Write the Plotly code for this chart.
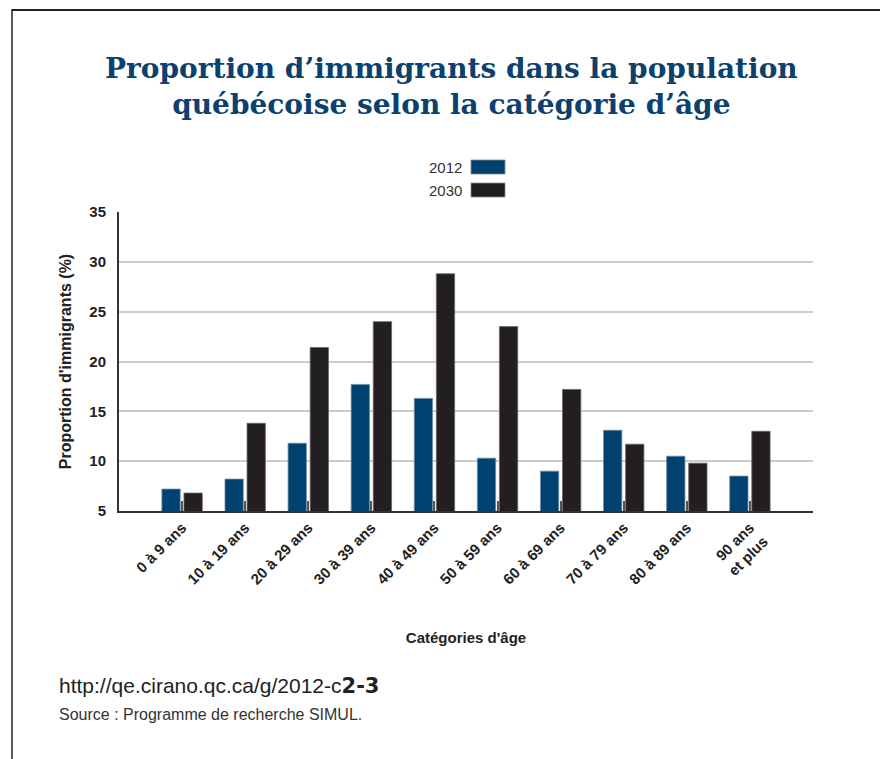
import plotly.graph_objects as go

categories = ["0 à 9 ans", "10 à 19 ans", "20 à 29 ans", "30 à 39 ans", "40 à 49 ans",
              "50 à 59 ans", "60 à 69 ans", "70 à 79 ans", "80 à 89 ans", "90 ans<br>et plus"]
values_2012 = [7.2, 8.2, 11.8, 17.7, 16.3, 10.3, 9.0, 13.1, 10.5, 8.5]
values_2030 = [6.8, 13.8, 21.4, 24.0, 28.8, 23.5, 17.2, 11.7, 9.8, 13.0]
series_names = ["2012", "2030"]
y_ticks = [5, 10, 15, 20, 25, 30, 35]

BLUE = "#00426f"
DARK = "#231f20"
FONT = "Liberation Sans, Arial, sans-serif"

fig = go.Figure()
fig.add_trace(go.Bar(x=categories, y=values_2012, name=series_names[0],
                     marker=dict(color=BLUE, line=dict(color="#6d8aa3", width=0.8)),
                     width=0.29, offset=-0.32, showlegend=False))
fig.add_trace(go.Bar(x=categories, y=values_2030, name=series_names[1],
                     marker=dict(color=DARK, line=dict(color="#666666", width=0.8)),
                     width=0.29, offset=0.03, showlegend=False))

W0, H0 = 694, 299  # plot area px
def px2x(px):
    return (px - 119) / W0
def py2y(py):
    return (511 - py) / H0

fig.update_layout(
    width=880, height=759,
    margin=dict(l=119, r=67, t=212, b=248),
    paper_bgcolor="white", plot_bgcolor="white",
    barmode="overlay",
    font=dict(family=FONT, color="#222222"),
    xaxis=dict(range=[-1, 10], tickangle=-45, showgrid=False,
               tickfont=dict(family=FONT, size=15, color="#222222", weight="bold"),
               showline=True, linecolor="#333333", linewidth=2,
               ticks="inside", ticklen=10, tickwidth=2, tickcolor="#555555",
               title=dict(text="<b>Catégories d'âge</b>", font=dict(size=15, color="#222222"), standoff=46)),
    yaxis=dict(range=[5, 35], tickvals=y_ticks, showgrid=True, gridcolor="#cccccc", gridwidth=2,
               tickfont=dict(family=FONT, size=15, color="#222222", weight="bold"),
               showline=True, linecolor="#333333", linewidth=2, zeroline=False,
               ticks="", ticklabelstandoff=8,
               title=dict(text="<b>Proportion d'immigrants (%)</b>", font=dict(size=16, color="#222222"), standoff=14)),
)

# Title
fig.add_annotation(text="<b>Proportion d’immigrants dans la population<br>québécoise selon la catégorie d’âge</b>",
                   xref="paper", yref="paper", x=px2x(451), y=py2y(86), xanchor="center", yanchor="middle",
                   showarrow=False, align="center",
                   font=dict(family="DejaVu Serif, serif", size=28, color="#0b416f"))

# Custom legend (text left, swatch right)
colors = [BLUE, DARK]
for i, (nm, c) in enumerate(zip(series_names, colors)):
    yc = 167 + i * 23
    fig.add_annotation(text=nm, xref="paper", yref="paper", x=px2x(464), y=py2y(yc),
                       xanchor="right", yanchor="middle", showarrow=False,
                       font=dict(family=FONT, size=15, color="#333333"))
    fig.add_shape(type="rect", xref="paper", yref="paper",
                  x0=px2x(471), x1=px2x(505), y0=py2y(yc - 7), y1=py2y(yc + 7),
                  fillcolor=c, line=dict(color="#888888", width=0.8))

# Footer
fig.add_annotation(text="http://qe.cirano.qc.ca/g/2012-c<span style='font-family:DejaVu Sans; font-weight:bold'>2-3</span>",
                   xref="paper", yref="paper", x=px2x(57), y=py2y(686), xanchor="left", yanchor="middle",
                   showarrow=False, font=dict(family=FONT, size=21, color="#222222"))
fig.add_annotation(text="Source : Programme de recherche SIMUL.",
                   xref="paper", yref="paper", x=px2x(57), y=py2y(714), xanchor="left", yanchor="middle",
                   showarrow=False, font=dict(family=FONT, size=16, color="#333333"))

# Frame lines (top and left)
fig.add_shape(type="line", xref="paper", yref="paper", x0=px2x(12), x1=px2x(880), y0=py2y(10), y1=py2y(10),
              line=dict(color="#222222", width=2))
fig.add_shape(type="line", xref="paper", yref="paper", x0=px2x(12), x1=px2x(12), y0=py2y(9), y1=py2y(759),
              line=dict(color="#222222", width=1.5))

fig.write_html("out.html")
